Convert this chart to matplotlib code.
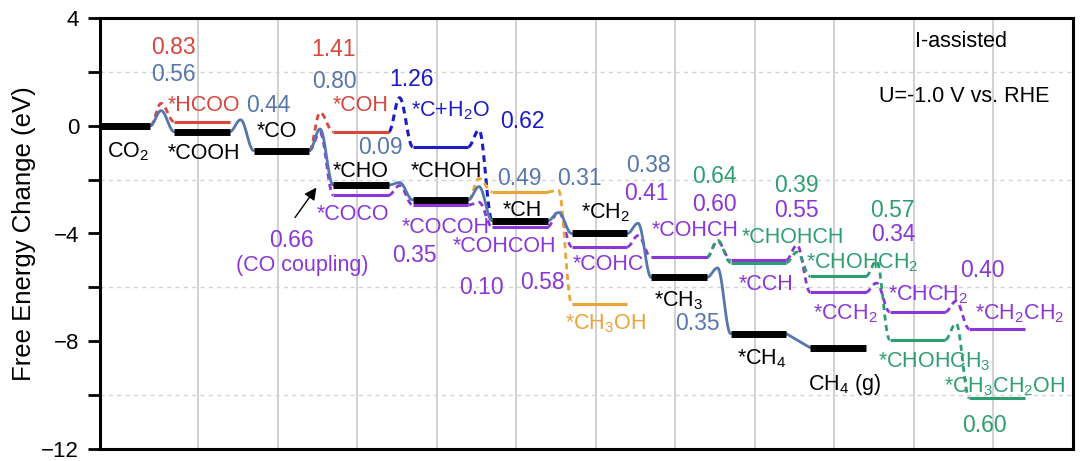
import numpy as np
import matplotlib
matplotlib.use('Agg')
import matplotlib.pyplot as plt

plt.rcParams['font.family'] = ['Liberation Sans', 'DejaVu Sans']
plt.rcParams['mathtext.fontset'] = 'custom'
plt.rcParams['mathtext.rm'] = 'Liberation Sans'
plt.rcParams['mathtext.it'] = 'Liberation Sans'

# main C1 path (black levels, solid blue connectors)
main_pos = [0, 1, 2, 3, 4, 5, 6, 7, 8, 9]
main_G = [0.00, -0.22, -0.92, -2.20, -2.75, -3.53, -4.00, -5.63, -7.72, -8.24]
main_Ea = [0.56, 0.44, 0.80, 0.09, 0.49, 0.31, 0.38, 0.35, None]

# *HCOO branch
hcoo_pos = [0, 1]
hcoo_G = [0.00, 0.15]
hcoo_Ea = [0.83]

# *COH branch
coh_pos = [2, 3]
coh_G = [-0.92, -0.22]
coh_Ea = [1.41]

# *C + H2O branch
c_pos = [3, 4, 5]
c_G = [-0.22, -0.78, -3.53]
c_Ea = [1.26, 0.62]

# methanol branch
meoh_pos = [4, 5, 6]
meoh_G = [-2.75, -2.45, -6.60]
meoh_Ea = [0.79, 0.05]

# C2 (CO coupling) path to ethylene
c2_pos = [2, 3, 4, 5, 6, 7, 8, 9, 10, 11]
c2_G = [-0.92, -2.57, -2.94, -3.75, -4.49, -4.89, -4.98, -6.18, -6.91, -7.54]
c2_Ea = [0.66, 0.35, 0.10, 0.58, 0.41, 0.60, 0.55, 0.34, 0.40]

# ethanol branch
etoh_pos = [7, 8, 9, 10, 11]
etoh_G = [-4.89, -5.08, -5.59, -7.94, -10.10]
etoh_Ea = [0.64, 0.39, 0.57, 0.60]

BLACK = 'black'
SBLUE = '#5677ad'
RED = '#d8463c'
NAVY = '#1c1cc4'
ORANGE = '#eba436'
PURPLE = '#8a36d8'
GREEN = '#2e9e72'

L0, L1 = -0.3, 0.4   # level extent around each position


def hump(x0, g0, x1, g1, ea, tp=0.45, n=80):
    if ea is None:
        return np.array([x0, x1]), np.array([g0, g1])
    peak = g0 + ea
    t = np.linspace(0, 1, n)
    y = np.where(
        t < tp,
        g0 + (peak - g0) * (1 - np.cos(np.pi * t / tp)) / 2,
        peak + (g1 - peak) * (1 - np.cos(np.pi * (t - tp) / (1 - tp))) / 2,
    )
    return x0 + t * (x1 - x0), y


def draw_path(ax, pos, G, Ea, color, lw, ls, draw_levels, lcolor=None, llw=2.2, z=2):
    lcolor = lcolor or color
    for i in range(len(pos) - 1):
        xs, ys = hump(pos[i] + L1, G[i], pos[i + 1] + L0, G[i + 1], Ea[i])
        ax.plot(xs, ys, color=color, lw=lw, ls=ls, zorder=z, solid_capstyle='round')
    for i in draw_levels:
        ax.hlines(G[i], pos[i] + L0, pos[i] + L1, color=lcolor, lw=llw, zorder=z + 0.5)


fig = plt.figure(figsize=(10.8, 4.61), dpi=100)
ax = fig.add_axes([100 / 1080, 12 / 461, 973 / 1080, 431 / 461])
ax.set_xlim(-0.233, 12.006)
ax.set_ylim(-12, 4)

# grid
for gx in range(1, 12):
    ax.axvline(gx, color='#c9c9c9', lw=1.2, zorder=0)
for gy in [2, -2, -6, -10]:
    ax.axhline(gy, color='#d4d4d4', lw=1.0, ls=(0, (3, 3)), zorder=0)

dash = (0, (2.2, 1.6))
draw_path(ax, c2_pos, c2_G, c2_Ea, PURPLE, 2.0, dash, range(1, len(c2_pos)))
draw_path(ax, etoh_pos, etoh_G, etoh_Ea, GREEN, 2.0, dash, range(1, len(etoh_pos)))
draw_path(ax, hcoo_pos, hcoo_G, hcoo_Ea, RED, 2.0, dash, [1])
draw_path(ax, coh_pos, coh_G, coh_Ea, RED, 2.0, dash, [1])
draw_path(ax, c_pos, c_G, c_Ea, NAVY, 2.2, dash, [1])
draw_path(ax, meoh_pos, meoh_G, meoh_Ea, ORANGE, 2.0, dash, [1, 2])
draw_path(ax, main_pos, main_G, main_Ea, SBLUE, 2.0, '-', range(len(main_pos)),
          lcolor=BLACK, llw=5, z=4)

# labels: species names and barrier values
fs_name = 15.5
fs_num = 16.5
labels = [
    ('0.83', 0.69, 2.90, RED), ('0.56', 0.69, 1.91, SBLUE),
    ('*HCOO', 1.08, 0.74, RED), ('0.44', 1.88, 0.74, SBLUE),
    ('CO$_2$', 0.12, -0.98, BLACK), ('*COOH', 1.08, -1.03, BLACK),
    ('*CO', 1.99, -0.22, BLACK),
    ('1.41', 2.70, 2.83, RED), ('0.80', 2.71, 1.65, SBLUE),
    ('*COH', 3.04, 0.77, RED), ('1.26', 3.69, 1.73, NAVY),
    ('*C+H$_2$O', 4.18, 0.55, NAVY), ('0.62', 5.08, 0.15, NAVY),
    ('0.09', 3.30, -0.80, SBLUE), ('*CHO', 3.04, -1.68, BLACK),
    ('*CHOH', 4.12, -1.69, BLACK),
    ('0.49', 5.04, -1.95, SBLUE), ('0.31', 5.80, -1.95, SBLUE),
    ('*CH', 5.08, -3.13, BLACK), ('*CH$_2$', 6.13, -3.22, BLACK),
    ('*COCO', 2.95, -3.31, PURPLE), ('*COCOH', 4.11, -3.79, PURPLE),
    ('0.66', 2.17, -4.26, PURPLE), ('(CO coupling)', 2.31, -5.18, PURPLE),
    ('0.35', 3.72, -4.82, PURPLE), ('*COHCOH', 4.85, -4.49, PURPLE),
    ('0.10', 4.56, -5.99, PURPLE), ('0.58', 5.33, -5.81, PURPLE),
    ('*COHC', 6.16, -5.15, PURPLE), ('*CH$_3$OH', 6.12, -7.34, ORANGE),
    ('0.38', 6.66, -1.47, SBLUE), ('0.41', 6.64, -2.50, PURPLE),
    ('0.64', 7.49, -1.88, GREEN), ('0.60', 7.49, -2.94, PURPLE),
    ('*COHCH', 7.25, -3.90, PURPLE), ('*CHOHCH', 8.48, -4.15, GREEN),
    ('0.39', 8.53, -2.21, GREEN), ('0.55', 8.53, -3.16, PURPLE),
    ('0.57', 9.73, -3.13, GREEN), ('0.34', 9.75, -4.04, PURPLE),
    ('*CCH', 8.14, -5.88, PURPLE), ('*CHOHCH$_2$', 9.35, -5.08, GREEN),
    ('0.40', 10.87, -5.37, PURPLE), ('*CHCH$_2$', 10.19, -6.26, PURPLE),
    ('*CCH$_2$', 9.14, -6.99, PURPLE), ('*CH$_2$CH$_2$', 11.33, -6.99, PURPLE),
    ('*CH$_3$', 7.05, -6.50, BLACK), ('0.35', 7.28, -7.35, SBLUE),
    ('*CH$_4$', 8.09, -8.64, BLACK), ('CH$_4$ (g)', 9.13, -9.62, BLACK),
    ('*CHOHCH$_3$', 10.26, -8.76, GREEN), ('*CH$_3$CH$_2$OH', 11.15, -9.68, GREEN),
    ('0.60', 10.89, -11.14, GREEN),
]
for txt, x, y, c in labels:
    size = fs_num if txt[0].isdigit() else fs_name
    ax.text(x, y, txt, color=c, fontsize=size, ha='center', va='center', zorder=6)

ax.text(0.885, 0.945, 'I-assisted', transform=ax.transAxes, fontsize=15.5,
        ha='center', va='center')
ax.text(0.888, 0.818, 'U=-1.0 V vs. RHE', transform=ax.transAxes, fontsize=15.5,
        ha='center', va='center')

ax.annotate('', xy=(2.51, -2.21), xytext=(2.20, -3.49),
            arrowprops=dict(arrowstyle='-|>', color='black', lw=1.0,
                            mutation_scale=18), zorder=6)

# axes styling
ax.set_xticks([])
ax.set_yticks([4, 0, -4, -8, -12])
ax.set_yticks([2, -2, -6, -10], minor=True)
ax.tick_params(axis='y', which='both', direction='out', length=9, width=2,
               labelsize=16, pad=6)
for s in ax.spines.values():
    s.set_linewidth(2.2)
ax.set_ylabel('Free Energy Change (eV)', fontsize=18.5, labelpad=4)

fig.savefig('out.png', dpi=100)
